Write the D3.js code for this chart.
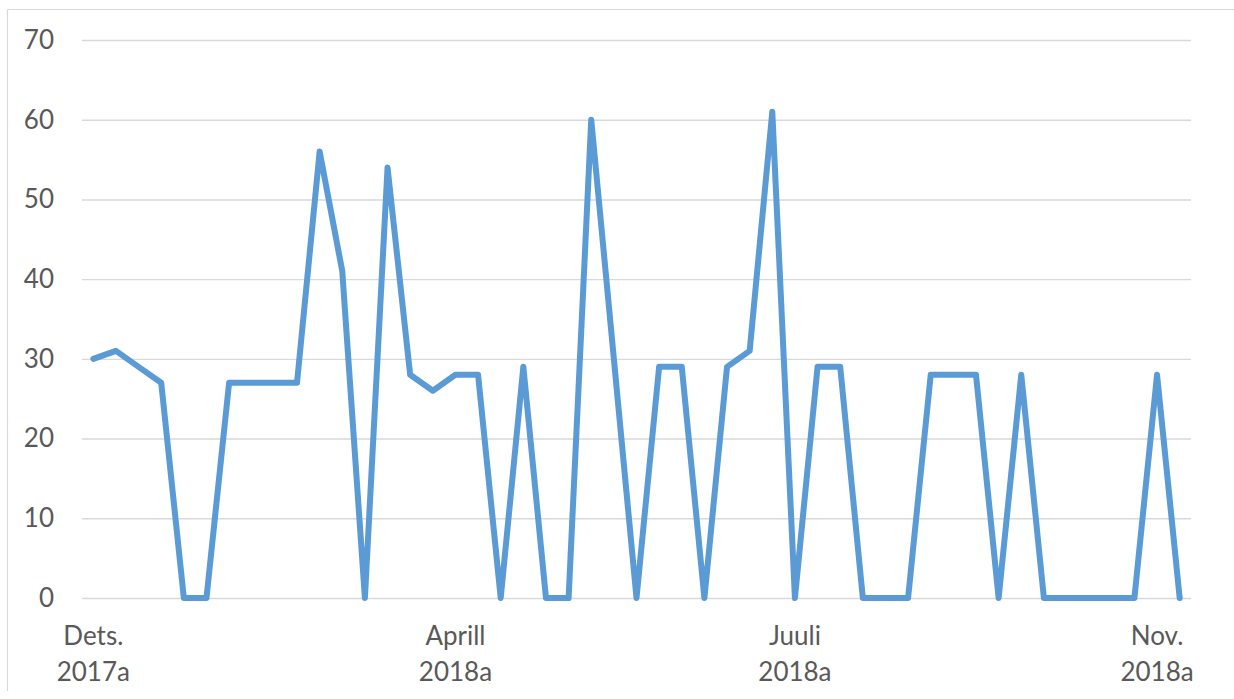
<!DOCTYPE html>
<html>
<head>
<meta charset="utf-8">
<script src="https://cdn.jsdelivr.net/npm/d3@7/dist/d3.min.js"></script>
<style>
  html, body { margin: 0; padding: 0; background: #fff; }
  svg { display: block; }
  text { font-family: Lato, "Open Sans", sans-serif; fill: #595959; }
</style>
</head>
<body>
<svg id="chart" width="1234" height="699"></svg>
<script>
// Weekly counts, Dec 2017 – Nov 2018
const weeks = d3.range(49);
const values = [
  30, 31, 29, 27, 0, 0, 27, 27, 27, 27,
  56, 41, 0, 54, 28, 26, 28, 28, 0, 29,
  0, 0, 60, 30, 0, 29, 29, 0, 29, 31,
  61, 0, 29, 29, 0, 0, 0, 28, 28, 28,
  0, 28, 0, 0, 0, 0, 0, 28, 0
];
// Category labels shown on the x axis (week index -> two-line label)
const xLabels = [
  { week: 0,  lines: ["Dets.", "2017a"] },
  { week: 16, lines: ["Aprill", "2018a"] },
  { week: 31, lines: ["Juuli", "2018a"] },
  { week: 47, lines: ["Nov.", "2018a"] }
];
const yTicks = [0, 10, 20, 30, 40, 50, 60, 70];

const svg = d3.select("#chart");
const plot = { left: 82, right: 1191, top: 40, bottom: 598 };

// Outer chart frame (top and left edges)
svg.append("line")
  .attr("x1", 7.5).attr("x2", 1234).attr("y1", 9.5).attr("y2", 9.5)
  .attr("stroke", "#d9d9d9").attr("stroke-width", 1.2);
svg.append("line")
  .attr("x1", 7.5).attr("x2", 7.5).attr("y1", 9.5).attr("y2", 691)
  .attr("stroke", "#d9d9d9").attr("stroke-width", 1.2);

const x = d3.scalePoint()
  .domain(weeks)
  .range([plot.left, plot.right])
  .padding(0.5);

const y = d3.scaleLinear()
  .domain([0, 70])
  .range([plot.bottom, plot.top]);

// Horizontal gridlines + y labels
const yAxis = d3.axisLeft(y)
  .tickValues(yTicks)
  .tickSize(-(plot.right - plot.left))
  .tickPadding(28)
  .tickFormat(d3.format("d"));

const gy = svg.append("g")
  .attr("transform", `translate(${plot.left},0)`)
  .call(yAxis);
gy.select(".domain").remove();
gy.selectAll(".tick line")
  .attr("stroke", "#d9d9d9")
  .attr("stroke-width", 1.4);
gy.selectAll(".tick text")
  .attr("font-size", 26)
  .attr("fill", "#595959")
  .style("font-family", "Lato, 'Open Sans', sans-serif");

// X category labels
const gx = svg.append("g");
xLabels.forEach(l => {
  const t = gx.append("text")
    .attr("text-anchor", "middle")
    .attr("font-size", 26)
    .attr("x", x(l.week));
  l.lines.forEach((s, i) => {
    t.append("tspan")
      .attr("x", x(l.week))
      .attr("y", 645 + i * 36)
      .text(s);
  });
});

// Data line
const line = d3.line()
  .x((d, i) => x(weeks[i]))
  .y(d => y(d));

svg.append("path")
  .datum(values)
  .attr("d", line)
  .attr("fill", "none")
  .attr("stroke", "#5b9bd5")
  .attr("stroke-width", 6)
  .attr("stroke-linejoin", "round")
  .attr("stroke-linecap", "round");
</script>
</body>
</html>
